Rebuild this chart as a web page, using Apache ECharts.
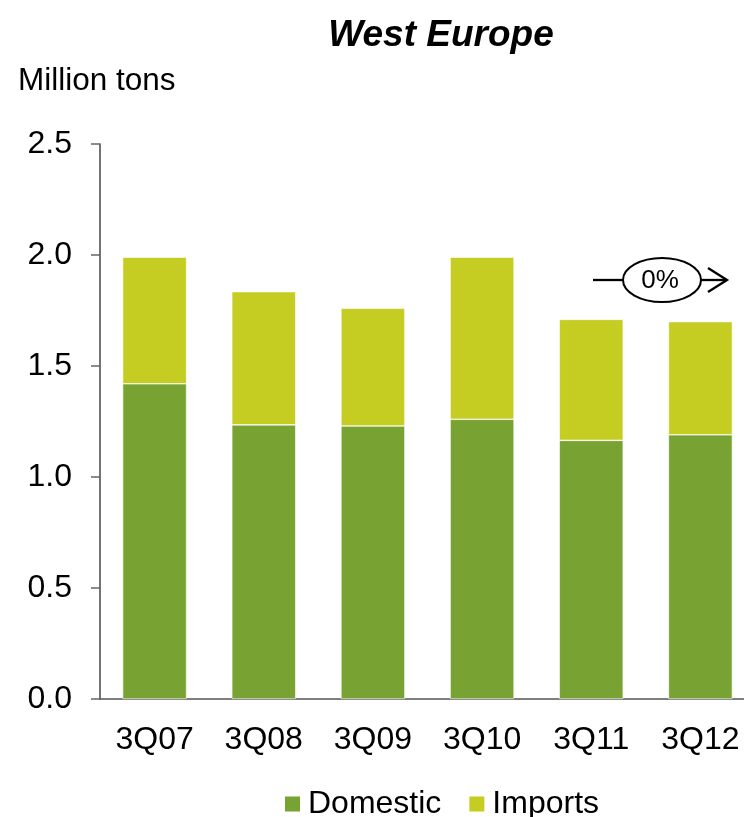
<!DOCTYPE html>
<html>
<head>
<meta charset="utf-8">
<script src="https://cdn.jsdelivr.net/npm/echarts@6/dist/echarts.min.js"></script>
<style>
  html, body { margin: 0; padding: 0; background: #fff; }
  #chart { width: 744px; height: 817px; }
</style>
</head>
<body>
<div id="chart"></div>
<script>
// quarters on the x axis
const categories = ['3Q07', '3Q08', '3Q09', '3Q10', '3Q11', '3Q12']
// million tons
const domestic = [1.42, 1.235, 1.23, 1.26, 1.165, 1.19]
const imports = [0.57, 0.60, 0.53, 0.73, 0.545, 0.51]

const font = 'Liberation Sans, Arial, sans-serif'
const chart = echarts.init(document.getElementById('chart'))

const option = {
  animation: false,
  title: [
    {
      text: 'West Europe',
      left: 436,
      top: 12,
      textAlign: 'center',
      textStyle: { fontFamily: font, fontSize: 37, fontWeight: 'bold', fontStyle: 'italic', color: '#000' }
    },
    {
      text: 'Million tons',
      left: 13,
      top: 60,
      textStyle: { fontFamily: font, fontSize: 31.5, fontWeight: 'normal', color: '#000' }
    }
  ],
  legend: {
    top: 783,
    left: 278,
    itemWidth: 17,
    itemHeight: 17,
    itemGap: 26,
    icon: 'rect',
    textStyle: { fontFamily: font, fontSize: 32, color: '#000', padding: [0, 0, 0, 2] },
    data: ['Domestic', 'Imports']
  },
  grid: { left: 100, top: 144, width: 655, height: 555, outerBoundsMode: 'none' },
  xAxis: {
    type: 'category',
    data: categories,
    axisLine: { lineStyle: { color: '#555', width: 1.5 } },
    axisTick: { show: false },
    axisLabel: { fontFamily: font, fontSize: 32, color: '#000', margin: 25 }
  },
  yAxis: {
    type: 'value',
    min: 0,
    max: 2.5,
    interval: 0.5,
    axisLine: { show: true, lineStyle: { color: '#444', width: 1.5 } },
    axisTick: { show: true, length: 9, lineStyle: { color: '#666', width: 1.5 } },
    splitLine: { show: false },
    axisLabel: {
      fontFamily: font, fontSize: 32, color: '#000', margin: 28,
      formatter: v => v.toFixed(1)
    }
  },
  series: [
    {
      name: 'Domestic',
      type: 'bar',
      stack: 'total',
      barWidth: 64,
      itemStyle: { color: '#78A231', borderColor: '#fff', borderWidth: 0.6 },
      data: domestic
    },
    {
      name: 'Imports',
      type: 'bar',
      stack: 'total',
      barWidth: 64,
      itemStyle: { color: '#C5CC22', borderColor: '#fff', borderWidth: 0.6 },
      data: imports
    }
  ],
  graphic: [
    { type: 'line', shape: { x1: 593, y1: 280, x2: 623, y2: 280 }, style: { stroke: '#000', lineWidth: 2.3 } },
    { type: 'ellipse', shape: { cx: 662, cy: 280, rx: 39, ry: 22 }, style: { fill: '#fff', stroke: '#000', lineWidth: 2 } },
    { type: 'text', style: { text: '0%', x: 660, y: 281, align: 'center', verticalAlign: 'middle', font: '26px ' + font, fill: '#000' } },
    { type: 'line', shape: { x1: 701, y1: 280, x2: 727, y2: 280 }, style: { stroke: '#000', lineWidth: 2.3 } },
    { type: 'polyline', shape: { points: [[708, 268], [727, 280], [708, 292]] }, style: { stroke: '#000', lineWidth: 2.3, fill: null } }
  ]
}

chart.setOption(option)
</script>
</body>
</html>
